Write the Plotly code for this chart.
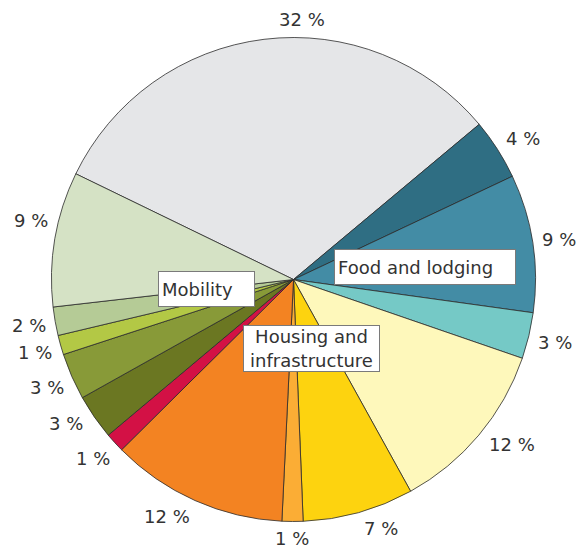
import math
import plotly.graph_objects as go

categories = [
    "Other", "Food 1", "Food 2", "Food 3",
    "Housing 1", "Housing 2", "Housing 3", "Housing 4", "Housing 5",
    "Mobility 1", "Mobility 2", "Mobility 3", "Mobility 4", "Mobility 5",
]
values = [31.7, 4.06, 9.2, 3.08, 11.67, 7.4, 1.4, 11.8, 1.3, 3.0, 3.1, 1.3, 1.9, 9.0]
colors = [
    "#e5e6e8", "#2f6e83", "#438ca5", "#75c9c6",
    "#fef8bb", "#fdd30f", "#fbad35", "#f38322", "#d31145",
    "#6b7722", "#889a38", "#b3c845", "#b5cb96", "#d5e2c5",
]
group_labels = ["Food and lodging", "Mobility", "Housing and<br>infrastructure"]

# label angular nudges (degrees) to follow the original label layout
label_shift = [8.85, 1.0, 0, 0, -2.9, -3.7, 0, 4.1, 0.5, 2.4, 0, 0, 0, 2.9]

FONT = "DejaVu Sans, Verdana, sans-serif"
TXT = "#333333"
FS = 18

W, H = 584, 551
OFF = 8                      # page body margin
CX, CY, R = 293.5 - OFF, 279.5 - OFF, 242.0
START = 295.9                # clockwise from 12 o'clock

fig = go.Figure(go.Pie(
    labels=categories,
    values=values,
    sort=False,
    direction="clockwise",
    rotation=START - 360,
    marker=dict(colors=colors, line=dict(color="#2b2b2b", width=0.8)),
    textinfo="none",
    hoverinfo="skip",
    showlegend=False,
    domain=dict(x=[(CX - R) / W, (CX + R) / W], y=[1 - (CY + R) / H, 1 - (CY - R) / H]),
))

# percentage labels outside the pie
total = sum(values)
char_w = {"%": 0.95, " ": 0.318}
cum = 0.0
for v, s in zip(values, label_shift):
    mid = START + 360 * (cum + v / 2) / total + s
    cum += v
    txt = f"{round(v):d} %"
    hw = sum(char_w.get(c, 0.636) for c in txt) * FS / 2
    t = math.radians(mid)
    sn, cs = math.sin(t), math.cos(t)
    r = 250 + hw * abs(sn) + 9 * abs(cs)
    px, py = CX + r * sn, CY - r * cs
    fig.add_annotation(
        x=px / W, y=1 - py / H, xref="paper", yref="paper", text=txt,
        showarrow=False, xanchor="center", yanchor="middle",
        font=dict(family=FONT, size=FS, color=TXT),
    )

box_pos = [(425 - OFF, 267.3 - OFF, 174, 28, "left"),
           (206.8 - OFF, 289 - OFF, 89, 28, "left"),
           (311.3 - OFF, 348.3 - OFF, 129, 39, "center")]
for lab, (x, y, w, h, al) in zip(group_labels, box_pos):
    fig.add_annotation(
        x=x / W, y=1 - y / H, xref="paper", yref="paper", text=lab, showarrow=False,
        font=dict(family=FONT, size=FS, color=TXT),
        bgcolor="white", bordercolor="#7a7a7a", borderwidth=1, borderpad=3,
        width=w, height=h, align=al, xanchor="center", yanchor="middle",
    )

fig.update_layout(
    width=W, height=H,
    margin=dict(l=0, r=0, t=0, b=0),
    paper_bgcolor="white", plot_bgcolor="white",
)
fig.write_html("out.html")
